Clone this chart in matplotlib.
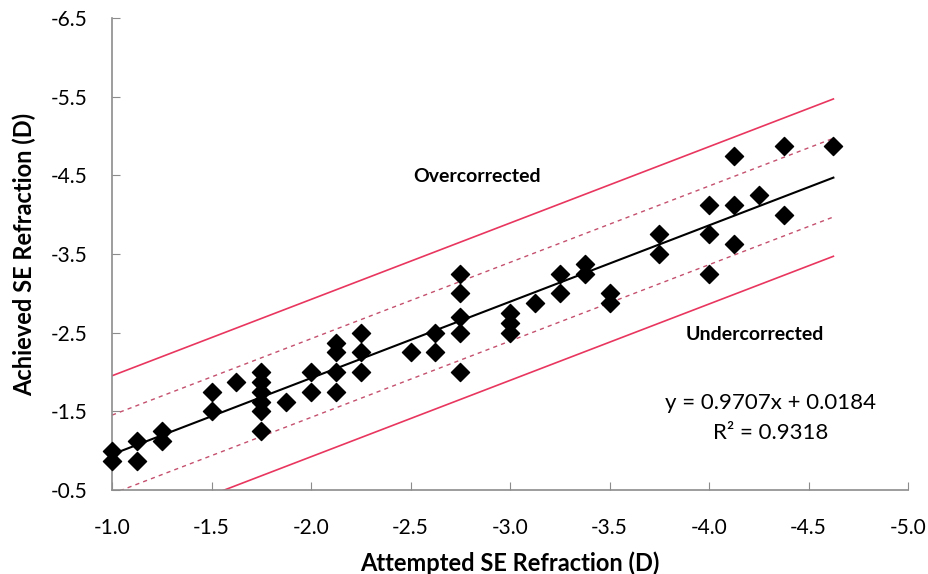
import numpy as np
import matplotlib.pyplot as plt

plt.rcParams['font.family'] = ['Lato', 'DejaVu Sans']

# ---------- Data (D) ----------
attempted = [-1.0, -1.0, -1.125, -1.125, -1.25, -1.25,
             -1.5, -1.5, -1.625,
             -1.75, -1.75, -1.75, -1.75, -1.75, -1.75,
             -1.875, -2.0, -2.0,
             -2.125, -2.125, -2.125, -2.125,
             -2.25, -2.25, -2.25, -2.5, -2.625, -2.625,
             -2.75, -2.75, -2.75, -2.75, -2.75,
             -3.0, -3.0, -3.0, -3.125, -3.25, -3.25, -3.375, -3.375,
             -3.5, -3.5, -3.75, -3.75, -4.0, -4.0, -4.0,
             -4.125, -4.125, -4.125, -4.25, -4.375, -4.375, -4.625]
achieved = [-1.0, -0.875, -1.125, -0.875, -1.25, -1.125,
            -1.75, -1.5, -1.875,
            -2.0, -1.875, -1.75, -1.625, -1.5, -1.25,
            -1.625, -2.0, -1.75,
            -2.375, -2.25, -2.0, -1.75,
            -2.5, -2.25, -2.0, -2.25, -2.5, -2.25,
            -3.25, -3.0, -2.7, -2.5, -2.0,
            -2.75, -2.625, -2.5, -2.875, -3.25, -3.0, -3.375, -3.25,
            -3.0, -2.875, -3.75, -3.5, -4.125, -3.75, -3.25,
            -4.75, -4.125, -3.625, -4.25, -4.875, -4.0, -4.875]

slope = 0.9707
intercept = 0.0184
x_range = [-1.0, -4.625]

red = "#e8365f"
red_dash = "#c4506e"

fig = plt.figure(figsize=(9.29, 5.74), dpi=100)
ax = fig.add_axes([0.1206, 0.1463, 0.8568, 0.8223])

xl = np.array(x_range)
fit = slope * xl + intercept
ax.plot(xl, fit - 1.0, color=red, lw=1.2)
ax.plot(xl, fit + 1.0, color=red, lw=1.2)
ax.plot(xl, fit - 0.5, color=red_dash, lw=1.0, ls=(0, (3, 3)))
ax.plot(xl, fit + 0.5, color=red_dash, lw=1.0, ls=(0, (3, 3)))
ax.plot(xl, fit, color="black", lw=1.5)

ax.scatter(attempted, achieved, marker="D", s=85, color="black", zorder=5,
           clip_on=False)

ax.set_xlim(-1.0, -5.0)
ax.set_ylim(-0.5, -6.5)
ax.set_xticks(np.arange(-1.0, -5.01, -0.5))
ax.set_yticks(np.arange(-0.5, -6.51, -1.0))
ax.set_xticklabels([f"{v:.1f}" for v in np.arange(-1.0, -5.01, -0.5)])
ax.set_yticklabels([f"{v:.1f}" for v in np.arange(-0.5, -6.51, -1.0)])

for side in ["top", "right"]:
    ax.spines[side].set_visible(False)
for side in ["left", "bottom"]:
    ax.spines[side].set_color("#8c8c8c")
    ax.spines[side].set_linewidth(1.2)
ax.tick_params(direction="in", length=6, color="#8c8c8c", labelsize=15)
ax.tick_params(axis="x", pad=20)
ax.tick_params(axis="y", pad=18)

ax.set_xlabel("Attempted SE Refraction (D)", fontsize=17, fontweight="bold",
              labelpad=10)
ax.set_ylabel("Achieved SE Refraction (D)", fontsize=17, fontweight="bold",
              labelpad=10)

ax.text(-2.835, -4.48, "Overcorrected", fontsize=14, fontweight="bold",
        ha="center", va="center")
ax.text(-4.23, -2.48, "Undercorrected", fontsize=14, fontweight="bold",
        ha="center", va="center")
ax.text(-4.31, -1.6, "y = 0.9707x + 0.0184", fontsize=16,
        ha="center", va="center")
ax.text(-4.31, -1.23, "R² = 0.9318", fontsize=16, ha="center", va="center")

fig.savefig("out.png", dpi=100)
